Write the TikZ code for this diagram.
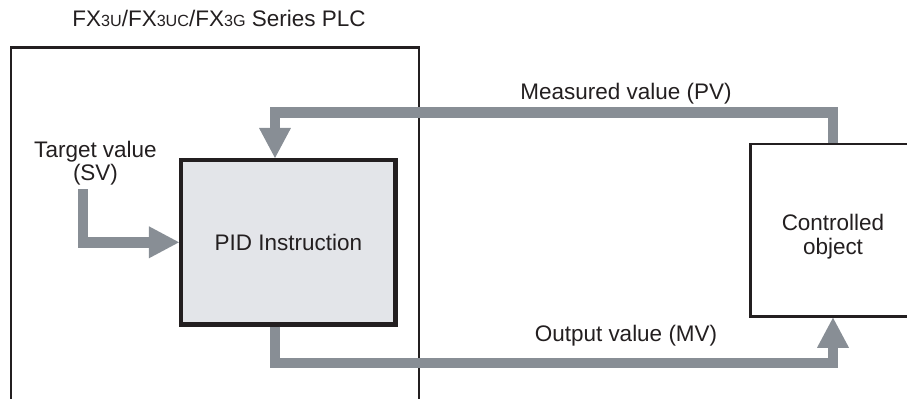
\documentclass[tikz,border=0pt]{standalone}
\usepackage{fontspec}
\setmainfont{Liberation Sans}
\usepackage{xcolor}
\usepackage{tikz}
\usetikzlibrary{arrows.meta,positioning}
\newcommand{\fsz}{\fontsize{12.8pt}{13.4pt}\selectfont}
\newcommand{\sml}[1]{{\fontsize{9.2pt}{10pt}\selectfont #1}}
\definecolor{clrTxt}{RGB}{35,31,32}
\definecolor{clrFlow}{RGB}{136,142,149}
\definecolor{bgPID}{RGB}{227,229,233}
\tikzset{
  frame/.style={rectangle,draw=clrTxt,line width=1.4pt,inner sep=0pt,
    minimum width=8.16cm,minimum height=7.7cm},
  pidbox/.style={rectangle,draw=clrTxt,fill=bgPID,line width=2.4pt,
    minimum width=4.29cm,minimum height=3.29cm,font=\fsz,text=clrTxt},
  objbox/.style={rectangle,draw=clrTxt,fill=white,line width=1.4pt,
    minimum width=3.3cm,minimum height=3.45cm},
  lbl/.style={font=\fsz,text=clrTxt,inner sep=0pt,align=center},
  flow/.style={-{Triangle[length=0.6cm,width=0.64cm,line width=0pt]},
    line width=0.21cm,color=clrFlow,line join=miter}
}

\begin{document}
\begin{tikzpicture}[x=0.02cm,y=-0.02cm]
  \useasboundingbox (0,0) rectangle (907,399);
  \clip (0,0) rectangle (907,399);
  \node[frame] (plc) at (215,240) {};
  \node[lbl,anchor=base] (title) at (219,26.7)
    {FX\sml{3U}/FX\sml{3UC}/FX\sml{3G} Series PLC};
  \node[pidbox] (pid) at (288.3,242.3) {PID Instruction};
  \node[objbox] (ctrl) at (833,230.3) {};
  \node[lbl] (ctrllbl) at ([yshift=-0.13cm]ctrl.center) {Controlled\\object};
  \node[lbl] (svlbl) at (95.5,163) {Target value\\(SV)};
  \node[lbl,anchor=base] (pvlbl) at (626,99.3) {Measured value (PV)};
  \node[lbl,anchor=base] (mvlbl) at (626,341.7) {Output value (MV)};
  \coordinate (svin) at (82.8,189);
  \coordinate (pvturn) at (275,112.5);
  \coordinate (mvturn) at (275,363);
  \draw[flow] (svin) |- (pid.west);
  \draw[flow] (ctrl.north) |- (pvturn) -- (pvturn |- pid.north);
  \draw[flow] (mvturn |- pid.south) -- (mvturn) -| (ctrl.south);
\end{tikzpicture}
\end{document}
